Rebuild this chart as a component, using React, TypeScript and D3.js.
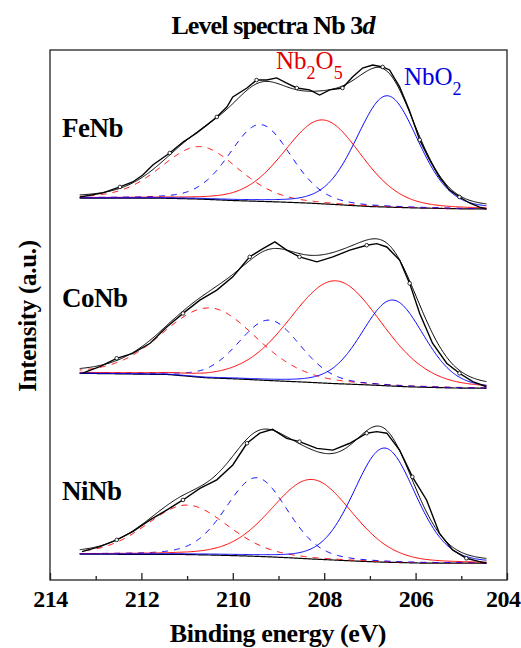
import React, { useEffect, useRef } from "react";
import * as d3 from "d3";

const W = 521,
  H = 648;

const feNbEnergy = [
  213.34, 212.84, 212.47, 212.19, 211.97, 211.75, 211.38, 211.09, 210.79, 210.57,
  210.35, 210.13, 210.0, 209.69, 209.48, 209.26, 209.04, 208.82, 208.6, 208.32,
  208.1, 207.88, 207.6, 207.38, 207.16, 206.94, 206.72, 206.57, 206.35, 206.14,
  205.91, 205.69, 205.48, 205.26, 205.04, 204.82, 204.6, 204.45,
];
const feNbCounts = [
  6.8, 9.1, 12.5, 15.3, 19.2, 24.9, 31.7, 37.9, 43.0, 47.5, 52.1, 57.7, 63.4,
  68.5, 73.0, 73.0, 74.2, 71.3, 68.5, 67.4, 64.5, 67.4, 68.5, 74.7, 79.8, 81.5,
  80.4, 78.7, 69.1, 56.0, 39.1, 27.7, 18.1, 10.8, 6.8, 3.4, 1.1, 0,
];

const coNbEnergy = [
  213.3, 212.91, 212.54, 212.19, 211.81, 211.44, 211.09, 210.72, 210.35, 210.0,
  209.63, 209.34, 209.08, 208.82, 208.54, 208.16, 207.81, 207.44, 207.07, 206.85,
  206.63, 206.35, 206.13, 205.91, 205.63, 205.32, 205.04, 204.75, 204.45,
];
const coNbCounts = [
  8.5, 12.3, 17.0, 19.8, 25.5, 34.9, 42.4, 49.9, 55.6, 63.1, 74.4, 79.1, 82.9,
  78.2, 74.4, 71.6, 74.4, 78.2, 81.0, 81.9, 80.0, 72.6, 59.4, 42.4, 25.5, 14.2,
  8.5, 3.8, 0.9,
];

const niNbEnergy = [
  213.3, 212.91, 212.54, 212.19, 211.81, 211.44, 211.09, 210.72, 210.35, 210.0,
  209.69, 209.41, 209.13, 208.82, 208.54, 208.16, 207.81, 207.44, 207.07, 206.85,
  206.63, 206.35, 206.07, 205.76, 205.48, 205.19, 204.89, 204.6, 204.45,
];
const niNbCounts = [
  6.6, 9.4, 13.2, 17.9, 24.5, 30.2, 35.8, 42.4, 47.2, 55.6, 67.9, 73.6, 75.8,
  70.7, 68.8, 65.0, 64.0, 67.9, 73.6, 74.5, 73.6, 64.0, 48.9, 35.8, 17.0, 7.5,
  2.8, 0.9, 0,
];

// Shirley backgrounds [eV, intensity]
const feNbBackground = [
  [204.4, 0], [205.0, 0.1], [206.0, 0.6], [207.0, 1.4], [207.6, 2.3], [208.3, 3.3],
  [209.0, 4.0], [210.0, 4.8], [210.7, 5.6], [211.5, 6.1], [213.35, 6.2],
];
const coNbBackground = [
  [204.4, 0], [205.2, 0.2], [206.2, 0.9], [207.0, 1.9], [207.8, 2.7], [208.5, 3.6],
  [209.2, 4.4], [209.9, 5.3], [210.6, 6.0], [211.4, 7.8], [212.2, 8.1], [213.35, 8.5],
];
const niNbBackground = [
  [204.4, 0], [205.9, 0.1], [206.7, 0.6], [207.2, 1.1], [207.7, 1.7], [208.2, 2.3],
  [208.7, 3.0], [209.2, 3.6], [209.7, 4.1], [210.4, 4.6], [211.2, 5.0], [213.35, 5.1],
];

// fitted components [centre eV, height, FWHM eV]:
// NbO2 3d5/2, NbO2 3d3/2, Nb2O5 3d5/2, Nb2O5 3d3/2
const feNbPeaks = [
  [206.62, 63.0, 1.6], [209.4, 43.5, 1.6], [208.03, 47.5, 2.0], [210.72, 29.7, 2.0],
];
const coNbPeaks = [
  [206.5, 48.7, 1.6], [209.2, 34.2, 1.6], [207.75, 58.2, 2.4], [210.5, 39.6, 2.4],
];
const niNbPeaks = [
  [206.68, 64.6, 1.6], [209.48, 44.5, 1.6], [208.27, 45.0, 2.1], [211.0, 28.0, 2.1],
];

const sampleNames = ["FeNb", "CoNb", "NiNb"];
const sampleOffsets = [210, 108.5, 9.5];
const xTicks = [214, 212, 210, 208, 206, 204];
const xMinorTicks = [213, 211, 209, 207, 205];

const LORENTZ = 0.2; // G/L mix of the fit

const componentStyle = [
  { color: "#0000ff", dash: null },
  { color: "#0000ff", dash: "6,6" },
  { color: "#ff0000", dash: null },
  { color: "#ff0000", dash: "6,6" },
];

const pv = (e, [c, h, w]) => {
  const t = ((e - c) * (e - c)) / (w * w);
  return h * ((1 - LORENTZ) * Math.exp(-4 * Math.LN2 * t) + LORENTZ / (1 + 4 * t));
};

const App = () => {
  const svgRef = useRef(null);

  useEffect(() => {
    const svg = d3.select(svgRef.current);
    svg.selectAll("*").remove();

    const margin = { top: 50, right: 14, bottom: 68, left: 50 };
    const x = d3.scaleLinear().domain([214, 204]).range([margin.left, W - margin.right]);
    const y = d3.scaleLinear().domain([0, 300]).range([H - margin.bottom, margin.top]);

    const font = "'Liberation Serif', 'Times New Roman', serif";

    const panels = [
      { energy: feNbEnergy, counts: feNbCounts, bg: feNbBackground, peaks: feNbPeaks },
      { energy: coNbEnergy, counts: coNbCounts, bg: coNbBackground, peaks: coNbPeaks },
      { energy: niNbEnergy, counts: niNbCounts, bg: niNbBackground, peaks: niNbPeaks },
    ];
    const labelLevels = [250.5, 154.5, 45.3];

    const grid = d3.range(204.45, 213.36, 0.02);
    const line = d3
      .line()
      .x((d) => x(d[0]))
      .y((d) => y(d[1]));

    panels.forEach((p, i) => {
      const off = sampleOffsets[i];
      const bgScale = d3
        .scaleLinear()
        .domain(p.bg.map((d) => d[0]))
        .range(p.bg.map((d) => d[1]))
        .clamp(true);
      const g = svg.append("g");

      // background
      g.append("path")
        .attr("d", line(grid.map((e) => [e, off + bgScale(e)])))
        .attr("fill", "none")
        .attr("stroke", "#000")
        .attr("stroke-width", 1.2);

      // components, dashed first
      [3, 1, 2, 0].forEach((k) => {
        const st = componentStyle[k];
        g.append("path")
          .attr("d", line(grid.map((e) => [e, off + bgScale(e) + pv(e, p.peaks[k])])))
          .attr("fill", "none")
          .attr("stroke", st.color)
          .attr("stroke-width", 1)
          .attr("stroke-dasharray", st.dash);
      });

      // envelope
      g.append("path")
        .attr(
          "d",
          line(
            grid.map((e) => [
              e,
              off + bgScale(e) + d3.sum(p.peaks, (pk) => pv(e, pk)),
            ])
          )
        )
        .attr("fill", "none")
        .attr("stroke", "#000")
        .attr("stroke-width", 1);

      // measured data
      const pts = p.energy.map((e, j) => [e, off + p.counts[j]]);
      g.append("path")
        .attr("d", line(pts))
        .attr("fill", "none")
        .attr("stroke", "#000")
        .attr("stroke-width", 1.4);
      g.selectAll("circle")
        .data(pts.filter((d, j) => j % 4 === 2))
        .enter()
        .append("circle")
        .attr("cx", (d) => x(d[0]))
        .attr("cy", (d) => y(d[1]))
        .attr("r", 1.8)
        .attr("fill", "#fff")
        .attr("stroke", "#000")
        .attr("stroke-width", 0.8);

      svg
        .append("text")
        .attr("x", 62)
        .attr("y", y(labelLevels[i]))
        .attr("font-family", font)
        .attr("font-weight", "bold")
        .attr("font-size", 27)
        .attr("letter-spacing", -0.5)
        .text(sampleNames[i]);
    });

    // frame
    svg
      .append("rect")
      .attr("x", x(214))
      .attr("y", y(300))
      .attr("width", x(204) - x(214))
      .attr("height", y(0) - y(300))
      .attr("fill", "none")
      .attr("stroke", "#222")
      .attr("stroke-width", 1.3);

    // x axis, ticks inside
    const axis = svg
      .append("g")
      .attr("transform", `translate(0, ${y(0)})`)
      .call(d3.axisBottom(x).tickValues(xTicks).tickSize(-7).tickPadding(10).tickFormat(d3.format("d")));
    axis.select(".domain").remove();
    axis.selectAll("line").attr("stroke", "#222").attr("stroke-width", 1.3);
    axis
      .selectAll("text")
      .attr("font-family", font)
      .attr("font-weight", "bold")
      .attr("font-size", 24)
      .attr("letter-spacing", -0.5)
      .attr("fill", "#000");
    // last label sits against the page edge
    axis
      .selectAll(".tick")
      .filter((d) => d === 204)
      .select("text")
      .attr("text-anchor", "end")
      .attr("x", W - 1 - x(204));

    const minor = svg
      .append("g")
      .attr("transform", `translate(0, ${y(0)})`)
      .call(d3.axisBottom(x).tickValues(xMinorTicks).tickSize(-4).tickFormat(() => ""));
    minor.select(".domain").remove();
    minor.selectAll("line").attr("stroke", "#222").attr("stroke-width", 1.3);
    minor.selectAll("text").remove();

    // titles
    const title = svg
      .append("text")
      .attr("x", 273)
      .attr("y", 34)
      .attr("text-anchor", "middle")
      .attr("font-family", font)
      .attr("font-weight", "bold")
      .attr("font-size", 26)
      .attr("letter-spacing", -0.9);
    title.append("tspan").text("Level spectra Nb 3");
    title.append("tspan").attr("font-style", "italic").text("d");

    svg
      .append("text")
      .attr("x", 278)
      .attr("y", 642)
      .attr("text-anchor", "middle")
      .attr("font-family", font)
      .attr("font-weight", "bold")
      .attr("font-size", 26)
      .attr("letter-spacing", -0.4)
      .text("Binding energy (eV)");

    svg
      .append("text")
      .attr("transform", "translate(36, 316) rotate(-90)")
      .attr("text-anchor", "middle")
      .attr("font-family", font)
      .attr("font-weight", "bold")
      .attr("font-size", 25)
      .attr("letter-spacing", -0.3)
      .text("Intensity (a.u.)");

    // species labels
    const addChem = (x0, y0, color, parts) => {
      const t = svg
        .append("text")
        .attr("x", x0)
        .attr("y", y0)
        .attr("font-family", font)
        .attr("font-size", 25)
        .attr("fill", color);
      let prevSub = false;
      parts.forEach(([s, sub]) => {
        t.append("tspan")
          .attr("font-size", sub ? 18 : 25)
          .attr("dy", sub ? 10 : prevSub ? -10 : 0)
          .text(s);
        prevSub = !!sub;
      });
    };
    addChem(276, 69, "#e00000", [["Nb"], ["2", true], ["O"], ["5", true]]);
    addChem(404, 85, "#0000dd", [["NbO"], ["2", true]]);
  }, []);

  return (
    <svg
      ref={svgRef}
      width={W}
      height={H}
      style={{ position: "absolute", left: 0, top: 0, background: "#fff" }}
    ></svg>
  );
};

export default App;
